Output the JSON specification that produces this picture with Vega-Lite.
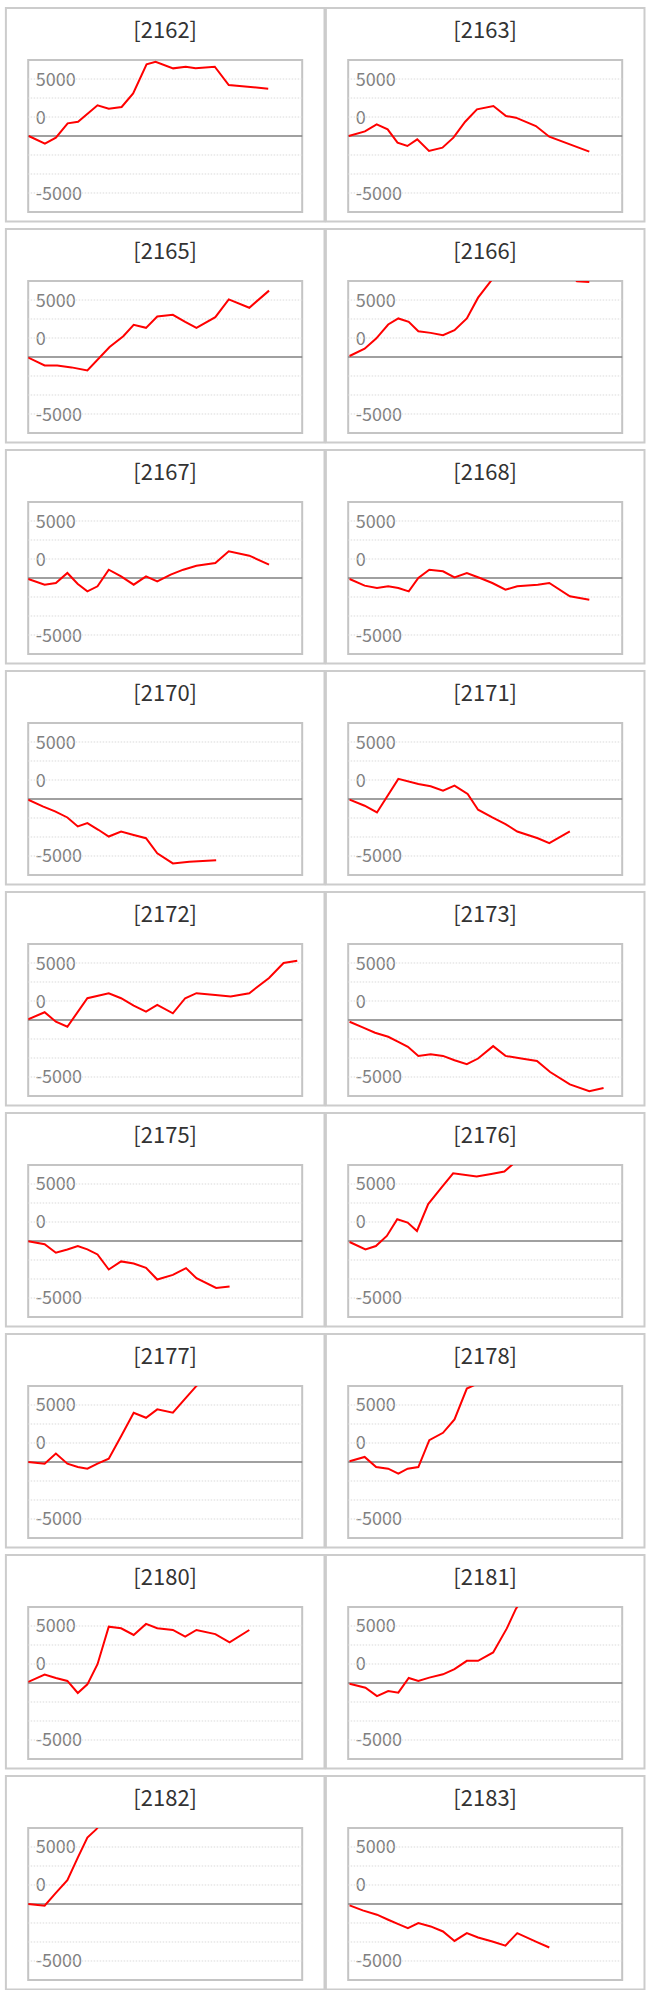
{
  "$schema": "https://vega.github.io/schema/vega-lite/v6.json",
  "padding": {"left": 3.2, "top": 4, "right": 2, "bottom": 2},
  "data": {
    "values": [
      {"p": "[2162]", "x": 0.2, "y": 0}, {"p": "[2162]", "x": 6.1, "y": -670}, {"p": "[2162]", "x": 10.1, "y": -146}, {"p": "[2162]", "x": 14.4, "y": 1111}, {"p": "[2162]", "x": 18.2, "y": 1257}, {"p": "[2162]", "x": 25.3, "y": 2690}, {"p": "[2162]", "x": 29.4, "y": 2398}, {"p": "[2162]", "x": 34.1, "y": 2544}, {"p": "[2162]", "x": 38.3, "y": 3743}, {"p": "[2162]", "x": 43.2, "y": 6287}, {"p": "[2162]", "x": 46.5, "y": 6520}, {"p": "[2162]", "x": 52.9, "y": 5936}, {"p": "[2162]", "x": 57.5, "y": 6082}, {"p": "[2162]", "x": 61.1, "y": 5936}, {"p": "[2162]", "x": 68.1, "y": 6082}, {"p": "[2162]", "x": 73.2, "y": 4474}, {"p": "[2162]", "x": 87.6, "y": 4152},
      {"p": "[2163]", "x": 0.2, "y": 0}, {"p": "[2163]", "x": 6.1, "y": 410}, {"p": "[2163]", "x": 10.4, "y": 1023}, {"p": "[2163]", "x": 14.4, "y": 585}, {"p": "[2163]", "x": 18.0, "y": -585}, {"p": "[2163]", "x": 21.6, "y": -877}, {"p": "[2163]", "x": 25.2, "y": -292}, {"p": "[2163]", "x": 29.5, "y": -1316}, {"p": "[2163]", "x": 34.4, "y": -1023}, {"p": "[2163]", "x": 38.4, "y": -146}, {"p": "[2163]", "x": 42.7, "y": 1257}, {"p": "[2163]", "x": 47.0, "y": 2339}, {"p": "[2163]", "x": 53.0, "y": 2632}, {"p": "[2163]", "x": 57.6, "y": 1754}, {"p": "[2163]", "x": 61.2, "y": 1608}, {"p": "[2163]", "x": 68.5, "y": 877}, {"p": "[2163]", "x": 73.4, "y": -58}, {"p": "[2163]", "x": 88.0, "y": -1374},
      {"p": "[2165]", "x": 0, "y": -50}, {"p": "[2165]", "x": 6.0, "y": -735}, {"p": "[2165]", "x": 10.6, "y": -735}, {"p": "[2165]", "x": 15.8, "y": -910}, {"p": "[2165]", "x": 21.6, "y": -1180}, {"p": "[2165]", "x": 29.7, "y": 882}, {"p": "[2165]", "x": 34.7, "y": 1824}, {"p": "[2165]", "x": 38.5, "y": 2824}, {"p": "[2165]", "x": 43.0, "y": 2559}, {"p": "[2165]", "x": 47.1, "y": 3559}, {"p": "[2165]", "x": 52.8, "y": 3706}, {"p": "[2165]", "x": 57.3, "y": 3088}, {"p": "[2165]", "x": 61.4, "y": 2559}, {"p": "[2165]", "x": 68.3, "y": 3500}, {"p": "[2165]", "x": 73.2, "y": 5059}, {"p": "[2165]", "x": 80.7, "y": 4324}, {"p": "[2165]", "x": 87.9, "y": 5824},
      {"p": "[2166]", "x": 0.5, "y": 88}, {"p": "[2166]", "x": 6.0, "y": 735}, {"p": "[2166]", "x": 10.2, "y": 1618}, {"p": "[2166]", "x": 14.6, "y": 2853}, {"p": "[2166]", "x": 18.3, "y": 3382}, {"p": "[2166]", "x": 22.1, "y": 3088}, {"p": "[2166]", "x": 25.6, "y": 2265}, {"p": "[2166]", "x": 30.1, "y": 2118}, {"p": "[2166]", "x": 34.6, "y": 1912}, {"p": "[2166]", "x": 38.8, "y": 2353}, {"p": "[2166]", "x": 43.3, "y": 3382}, {"p": "[2166]", "x": 47.4, "y": 5206}, {"p": "[2166]", "x": 54.1, "y": 7300}, {"p": "[2166]", "x": 61.0, "y": 8200}, {"p": "[2166]", "x": 68.0, "y": 8800}, {"p": "[2166]", "x": 75.0, "y": 8000}, {"p": "[2166]", "x": 80.7, "y": 7400}, {"p": "[2166]", "x": 83.5, "y": 6640}, {"p": "[2166]", "x": 88.0, "y": 6570},
      {"p": "[2167]", "x": 0, "y": -90}, {"p": "[2167]", "x": 6.0, "y": -585}, {"p": "[2167]", "x": 10.1, "y": -440}, {"p": "[2167]", "x": 14.3, "y": 440}, {"p": "[2167]", "x": 18.1, "y": -525}, {"p": "[2167]", "x": 21.6, "y": -1170}, {"p": "[2167]", "x": 25.3, "y": -730}, {"p": "[2167]", "x": 29.4, "y": 730}, {"p": "[2167]", "x": 33.9, "y": 146}, {"p": "[2167]", "x": 38.5, "y": -585}, {"p": "[2167]", "x": 43.0, "y": 146}, {"p": "[2167]", "x": 47.1, "y": -292}, {"p": "[2167]", "x": 52.0, "y": 292}, {"p": "[2167]", "x": 56.6, "y": 730}, {"p": "[2167]", "x": 61.4, "y": 1082}, {"p": "[2167]", "x": 68.3, "y": 1316}, {"p": "[2167]", "x": 73.2, "y": 2340}, {"p": "[2167]", "x": 80.7, "y": 1960}, {"p": "[2167]", "x": 87.9, "y": 1170},
      {"p": "[2168]", "x": 0.5, "y": -90}, {"p": "[2168]", "x": 6.0, "y": -670}, {"p": "[2168]", "x": 10.5, "y": -876}, {"p": "[2168]", "x": 14.6, "y": -730}, {"p": "[2168]", "x": 18.3, "y": -876}, {"p": "[2168]", "x": 22.1, "y": -1170}, {"p": "[2168]", "x": 25.6, "y": 0}, {"p": "[2168]", "x": 29.6, "y": 730}, {"p": "[2168]", "x": 34.6, "y": 585}, {"p": "[2168]", "x": 38.8, "y": 58}, {"p": "[2168]", "x": 43.3, "y": 440}, {"p": "[2168]", "x": 48.1, "y": 0}, {"p": "[2168]", "x": 52.6, "y": -440}, {"p": "[2168]", "x": 57.4, "y": -1023}, {"p": "[2168]", "x": 61.7, "y": -730}, {"p": "[2168]", "x": 69.2, "y": -585}, {"p": "[2168]", "x": 73.4, "y": -440}, {"p": "[2168]", "x": 80.9, "y": -1608}, {"p": "[2168]", "x": 88.0, "y": -1900},
      {"p": "[2170]", "x": 0, "y": -60}, {"p": "[2170]", "x": 5.3, "y": -650}, {"p": "[2170]", "x": 9.8, "y": -1090}, {"p": "[2170]", "x": 14.3, "y": -1620}, {"p": "[2170]", "x": 18.1, "y": -2410}, {"p": "[2170]", "x": 21.6, "y": -2120}, {"p": "[2170]", "x": 25.6, "y": -2700}, {"p": "[2170]", "x": 29.4, "y": -3290}, {"p": "[2170]", "x": 33.9, "y": -2850}, {"p": "[2170]", "x": 38.5, "y": -3150}, {"p": "[2170]", "x": 43.0, "y": -3440}, {"p": "[2170]", "x": 47.1, "y": -4760}, {"p": "[2170]", "x": 52.8, "y": -5650}, {"p": "[2170]", "x": 58.8, "y": -5500}, {"p": "[2170]", "x": 68.6, "y": -5380},
      {"p": "[2171]", "x": 0.5, "y": -60}, {"p": "[2171]", "x": 6.0, "y": -590}, {"p": "[2171]", "x": 10.5, "y": -1180}, {"p": "[2171]", "x": 18.3, "y": 1765}, {"p": "[2171]", "x": 25.6, "y": 1320}, {"p": "[2171]", "x": 30.1, "y": 1118}, {"p": "[2171]", "x": 34.6, "y": 735}, {"p": "[2171]", "x": 38.8, "y": 1180}, {"p": "[2171]", "x": 43.6, "y": 440}, {"p": "[2171]", "x": 47.4, "y": -940}, {"p": "[2171]", "x": 52.6, "y": -1620}, {"p": "[2171]", "x": 57.4, "y": -2200}, {"p": "[2171]", "x": 61.7, "y": -2850}, {"p": "[2171]", "x": 69.2, "y": -3440}, {"p": "[2171]", "x": 73.4, "y": -3880}, {"p": "[2171]", "x": 80.9, "y": -2850},
      {"p": "[2172]", "x": 0, "y": 60}, {"p": "[2172]", "x": 6.0, "y": 680}, {"p": "[2172]", "x": 10.1, "y": -150}, {"p": "[2172]", "x": 14.3, "y": -590}, {"p": "[2172]", "x": 21.6, "y": 1910}, {"p": "[2172]", "x": 29.4, "y": 2350}, {"p": "[2172]", "x": 33.9, "y": 1910}, {"p": "[2172]", "x": 38.5, "y": 1260}, {"p": "[2172]", "x": 43.0, "y": 740}, {"p": "[2172]", "x": 47.1, "y": 1320}, {"p": "[2172]", "x": 52.8, "y": 590}, {"p": "[2172]", "x": 57.3, "y": 1910}, {"p": "[2172]", "x": 61.4, "y": 2350}, {"p": "[2172]", "x": 68.3, "y": 2200}, {"p": "[2172]", "x": 73.9, "y": 2060}, {"p": "[2172]", "x": 80.7, "y": 2350}, {"p": "[2172]", "x": 87.9, "y": 3680}, {"p": "[2172]", "x": 93.2, "y": 5000}, {"p": "[2172]", "x": 98.2, "y": 5200},
      {"p": "[2173]", "x": 0.5, "y": -150}, {"p": "[2173]", "x": 5.3, "y": -650}, {"p": "[2173]", "x": 9.8, "y": -1120}, {"p": "[2173]", "x": 14.6, "y": -1470}, {"p": "[2173]", "x": 18.3, "y": -1910}, {"p": "[2173]", "x": 21.8, "y": -2350}, {"p": "[2173]", "x": 25.6, "y": -3150}, {"p": "[2173]", "x": 30.1, "y": -3000}, {"p": "[2173]", "x": 34.6, "y": -3150}, {"p": "[2173]", "x": 38.8, "y": -3530}, {"p": "[2173]", "x": 43.3, "y": -3880}, {"p": "[2173]", "x": 47.4, "y": -3380}, {"p": "[2173]", "x": 52.9, "y": -2290}, {"p": "[2173]", "x": 57.4, "y": -3150}, {"p": "[2173]", "x": 63.2, "y": -3380}, {"p": "[2173]", "x": 68.9, "y": -3590}, {"p": "[2173]", "x": 73.7, "y": -4560}, {"p": "[2173]", "x": 80.9, "y": -5650}, {"p": "[2173]", "x": 88.0, "y": -6240}, {"p": "[2173]", "x": 93.2, "y": -5970},
      {"p": "[2175]", "x": 0, "y": -30}, {"p": "[2175]", "x": 6.0, "y": -290}, {"p": "[2175]", "x": 10.1, "y": -1030}, {"p": "[2175]", "x": 14.3, "y": -740}, {"p": "[2175]", "x": 18.1, "y": -440}, {"p": "[2175]", "x": 21.6, "y": -740}, {"p": "[2175]", "x": 25.3, "y": -1180}, {"p": "[2175]", "x": 29.4, "y": -2500}, {"p": "[2175]", "x": 33.9, "y": -1790}, {"p": "[2175]", "x": 38.5, "y": -1970}, {"p": "[2175]", "x": 43.0, "y": -2350}, {"p": "[2175]", "x": 47.1, "y": -3380}, {"p": "[2175]", "x": 52.8, "y": -2970}, {"p": "[2175]", "x": 57.6, "y": -2380}, {"p": "[2175]", "x": 61.4, "y": -3260}, {"p": "[2175]", "x": 68.6, "y": -4120}, {"p": "[2175]", "x": 73.5, "y": -4000},
      {"p": "[2176]", "x": 0.5, "y": -90}, {"p": "[2176]", "x": 6.3, "y": -740}, {"p": "[2176]", "x": 10.1, "y": -440}, {"p": "[2176]", "x": 14.1, "y": 440}, {"p": "[2176]", "x": 17.9, "y": 1910}, {"p": "[2176]", "x": 21.7, "y": 1620}, {"p": "[2176]", "x": 25.1, "y": 880}, {"p": "[2176]", "x": 29.2, "y": 3240}, {"p": "[2176]", "x": 34.1, "y": 4710}, {"p": "[2176]", "x": 38.3, "y": 5940}, {"p": "[2176]", "x": 46.9, "y": 5650}, {"p": "[2176]", "x": 52.2, "y": 5880}, {"p": "[2176]", "x": 57.0, "y": 6090}, {"p": "[2176]", "x": 62.7, "y": 7300}, {"p": "[2176]", "x": 68.0, "y": 8200},
      {"p": "[2177]", "x": 0, "y": 0}, {"p": "[2177]", "x": 6.0, "y": -150}, {"p": "[2177]", "x": 10.1, "y": 740}, {"p": "[2177]", "x": 14.3, "y": -150}, {"p": "[2177]", "x": 18.1, "y": -440}, {"p": "[2177]", "x": 21.6, "y": -590}, {"p": "[2177]", "x": 25.3, "y": -150}, {"p": "[2177]", "x": 29.4, "y": 290}, {"p": "[2177]", "x": 33.9, "y": 2260}, {"p": "[2177]", "x": 38.5, "y": 4320}, {"p": "[2177]", "x": 43.0, "y": 3880}, {"p": "[2177]", "x": 47.1, "y": 4620}, {"p": "[2177]", "x": 52.8, "y": 4320}, {"p": "[2177]", "x": 57.3, "y": 5560}, {"p": "[2177]", "x": 61.1, "y": 6590}, {"p": "[2177]", "x": 65.0, "y": 7600},
      {"p": "[2178]", "x": 0.5, "y": 60}, {"p": "[2178]", "x": 6.0, "y": 440}, {"p": "[2178]", "x": 10.2, "y": -440}, {"p": "[2178]", "x": 14.6, "y": -590}, {"p": "[2178]", "x": 18.3, "y": -1030}, {"p": "[2178]", "x": 21.7, "y": -590}, {"p": "[2178]", "x": 25.6, "y": -440}, {"p": "[2178]", "x": 29.6, "y": 1910}, {"p": "[2178]", "x": 34.6, "y": 2560}, {"p": "[2178]", "x": 38.8, "y": 3740}, {"p": "[2178]", "x": 43.3, "y": 6440}, {"p": "[2178]", "x": 47.4, "y": 6900}, {"p": "[2178]", "x": 52.0, "y": 7800},
      {"p": "[2180]", "x": 0, "y": 90}, {"p": "[2180]", "x": 6.0, "y": 740}, {"p": "[2180]", "x": 10.1, "y": 440}, {"p": "[2180]", "x": 14.3, "y": 180}, {"p": "[2180]", "x": 18.1, "y": -880}, {"p": "[2180]", "x": 21.6, "y": -120}, {"p": "[2180]", "x": 25.3, "y": 1650}, {"p": "[2180]", "x": 29.4, "y": 4940}, {"p": "[2180]", "x": 33.9, "y": 4800}, {"p": "[2180]", "x": 38.5, "y": 4210}, {"p": "[2180]", "x": 43.0, "y": 5180}, {"p": "[2180]", "x": 47.1, "y": 4800}, {"p": "[2180]", "x": 52.8, "y": 4650}, {"p": "[2180]", "x": 57.3, "y": 4060}, {"p": "[2180]", "x": 61.4, "y": 4650}, {"p": "[2180]", "x": 68.3, "y": 4290}, {"p": "[2180]", "x": 73.5, "y": 3560}, {"p": "[2180]", "x": 80.7, "y": 4650},
      {"p": "[2181]", "x": 0.5, "y": -60}, {"p": "[2181]", "x": 6.3, "y": -410}, {"p": "[2181]", "x": 10.5, "y": -1150}, {"p": "[2181]", "x": 14.6, "y": -700}, {"p": "[2181]", "x": 18.3, "y": -850}, {"p": "[2181]", "x": 22.1, "y": 440}, {"p": "[2181]", "x": 25.6, "y": 180}, {"p": "[2181]", "x": 29.6, "y": 470}, {"p": "[2181]", "x": 34.6, "y": 760}, {"p": "[2181]", "x": 38.8, "y": 1210}, {"p": "[2181]", "x": 43.3, "y": 1940}, {"p": "[2181]", "x": 47.4, "y": 1940}, {"p": "[2181]", "x": 52.9, "y": 2680}, {"p": "[2181]", "x": 57.9, "y": 4790}, {"p": "[2181]", "x": 61.2, "y": 6500}, {"p": "[2181]", "x": 65.0, "y": 7900},
      {"p": "[2182]", "x": 0, "y": 0}, {"p": "[2182]", "x": 6.0, "y": -150}, {"p": "[2182]", "x": 10.1, "y": 970}, {"p": "[2182]", "x": 14.3, "y": 2090}, {"p": "[2182]", "x": 18.1, "y": 4060}, {"p": "[2182]", "x": 21.6, "y": 5820}, {"p": "[2182]", "x": 24.9, "y": 6560}, {"p": "[2182]", "x": 28.0, "y": 7600},
      {"p": "[2183]", "x": 0.5, "y": -120}, {"p": "[2183]", "x": 5.3, "y": -560}, {"p": "[2183]", "x": 10.5, "y": -940}, {"p": "[2183]", "x": 14.6, "y": -1380}, {"p": "[2183]", "x": 18.3, "y": -1760}, {"p": "[2183]", "x": 21.8, "y": -2120}, {"p": "[2183]", "x": 25.6, "y": -1670}, {"p": "[2183]", "x": 30.1, "y": -1970}, {"p": "[2183]", "x": 34.6, "y": -2410}, {"p": "[2183]", "x": 38.8, "y": -3240}, {"p": "[2183]", "x": 43.3, "y": -2560}, {"p": "[2183]", "x": 47.4, "y": -2940}, {"p": "[2183]", "x": 52.6, "y": -3290}, {"p": "[2183]", "x": 57.4, "y": -3650}, {"p": "[2183]", "x": 61.7, "y": -2560}, {"p": "[2183]", "x": 68.9, "y": -3350}, {"p": "[2183]", "x": 73.4, "y": -3820}
    ]
  },
  "facet": {
    "field": "p",
    "type": "nominal",
    "title": null,
    "header": {"labels": false, "title": null, "labelExpr": "''", "labelFontSize": 1, "labelPadding": 0}
  },
  "columns": 2,
  "spacing": {"row": 69, "column": 46},
  "bounds": "flush",
  "resolve": {"axis": {"y": "independent"}},
  "spec": {
    "width": 274,
    "height": 152,
    "layer": [
      {
        "transform": [{"aggregate": [{"op": "count", "as": "n"}], "groupby": ["p"]}],
        "mark": {"type": "rule", "color": "#dadada", "strokeWidth": 1, "strokeDash": [1.5, 1.5]},
        "encoding": {"y": {"datum": 5000, "type": "quantitative", "scale": {"domain": [-6667, 6667], "nice": false, "zero": false}}}
      },
      {
        "transform": [{"aggregate": [{"op": "count", "as": "n"}], "groupby": ["p"]}],
        "mark": {"type": "rule", "color": "#dadada", "strokeWidth": 1, "strokeDash": [1.5, 1.5]},
        "encoding": {"y": {"datum": 3333.333, "type": "quantitative", "scale": {"domain": [-6667, 6667], "nice": false, "zero": false}}}
      },
      {
        "transform": [{"aggregate": [{"op": "count", "as": "n"}], "groupby": ["p"]}],
        "mark": {"type": "rule", "color": "#dadada", "strokeWidth": 1, "strokeDash": [1.5, 1.5]},
        "encoding": {"y": {"datum": 1666.667, "type": "quantitative", "scale": {"domain": [-6667, 6667], "nice": false, "zero": false}}}
      },
      {
        "transform": [{"aggregate": [{"op": "count", "as": "n"}], "groupby": ["p"]}],
        "mark": {"type": "rule", "color": "#dadada", "strokeWidth": 1, "strokeDash": [1.5, 1.5]},
        "encoding": {"y": {"datum": -1666.667, "type": "quantitative", "scale": {"domain": [-6667, 6667], "nice": false, "zero": false}}}
      },
      {
        "transform": [{"aggregate": [{"op": "count", "as": "n"}], "groupby": ["p"]}],
        "mark": {"type": "rule", "color": "#dadada", "strokeWidth": 1, "strokeDash": [1.5, 1.5]},
        "encoding": {"y": {"datum": -3333.333, "type": "quantitative", "scale": {"domain": [-6667, 6667], "nice": false, "zero": false}}}
      },
      {
        "transform": [{"aggregate": [{"op": "count", "as": "n"}], "groupby": ["p"]}],
        "mark": {"type": "rule", "color": "#dadada", "strokeWidth": 1, "strokeDash": [1.5, 1.5]},
        "encoding": {"y": {"datum": -5000, "type": "quantitative", "scale": {"domain": [-6667, 6667], "nice": false, "zero": false}}}
      },
      {
        "transform": [{"aggregate": [{"op": "count", "as": "n"}], "groupby": ["p"]}],
        "mark": {"type": "rule", "color": "#808080", "strokeWidth": 1.6},
        "encoding": {"y": {"datum": 0, "type": "quantitative", "scale": {"domain": [-6667, 6667], "nice": false, "zero": false}}}
      },
      {
        "mark": {"type": "line", "color": "#ff0000", "strokeWidth": 2, "clip": true},
        "encoding": {
          "x": {"field": "x", "type": "quantitative", "scale": {"domain": [0, 100], "nice": false, "zero": false}, "axis": null},
          "y": {
            "field": "y",
            "type": "quantitative",
            "scale": {"domain": [-6667, 6667], "nice": false, "zero": false},
            "axis": {
              "title": null,
              "values": [-5000, 1666.667, 5000],
              "labelExpr": "datum.value == 5000 ? '5000' : datum.value == -5000 ? '-5000' : '0'",
              "domain": false,
              "ticks": false,
              "tickSize": 0,
              "grid": false,
              "labelAlign": "left",
              "labelBaseline": "middle",
              "labelPadding": -7,
              "labelOffset": 1,
              "labelFont": "Noto Sans CJK JP",
              "labelFontSize": 18,
              "labelColor": "#808080",
              "labelOverlap": false,
              "labelFlush": false,
              "labelBound": false
            }
          }
        }
      },
      {
        "transform": [{"aggregate": [{"op": "count", "as": "n"}], "groupby": ["p"]}],
        "mark": {"type": "text", "font": "Noto Sans CJK JP", "fontSize": 22, "color": "#333333", "baseline": "alphabetic", "align": "center"},
        "encoding": {
          "text": {"field": "p", "type": "nominal"},
          "x": {"datum": 50, "type": "quantitative", "scale": {"domain": [0, 100], "nice": false, "zero": false}},
          "y": {"datum": 8600, "type": "quantitative", "scale": {"domain": [-6667, 6667], "nice": false, "zero": false}}
        }
      },
      {
        "transform": [{"aggregate": [{"op": "count", "as": "n"}], "groupby": ["p"]}],
        "mark": {"type": "rect", "fill": "transparent", "stroke": "#cccccc", "strokeWidth": 2},
        "encoding": {
          "x": {"datum": -8.14, "type": "quantitative", "scale": {"domain": [0, 100], "nice": false, "zero": false}},
          "x2": {"datum": 108.14},
          "y": {"datum": 11230, "type": "quantitative", "scale": {"domain": [-6667, 6667], "nice": false, "zero": false}},
          "y2": {"datum": -7500}
        }
      }
    ]
  },
  "config": {
    "view": {"stroke": "#c4c4c4", "strokeWidth": 2}
  }
}
